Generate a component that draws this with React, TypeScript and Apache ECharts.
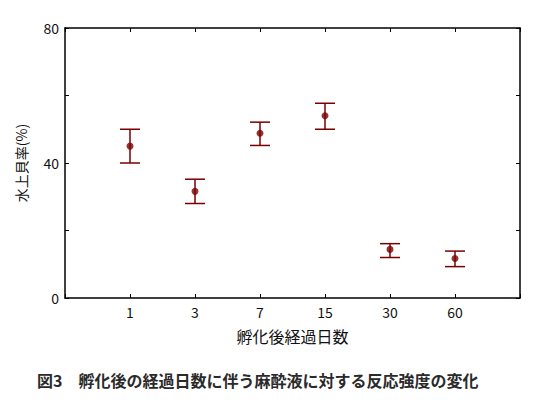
import React, { useEffect, useRef } from 'react';
import * as echarts from 'echarts';

// days after hatching, placed at slots 1..6 of a 0..7 axis
const dayLabels = ['1', '3', '7', '15', '30', '60'];
const meanValues = [45.0, 31.6, 48.8, 54.0, 14.4, 11.7];
const upperValues = [50.0, 35.2, 52.1, 57.7, 16.1, 13.9];
const lowerValues = [40.0, 28.0, 45.2, 50.0, 12.0, 9.3];
const yTickLabels = ['0', '40', '80'];

const RED = '#7a0000';
const FONT = '"Noto Sans CJK JP", sans-serif';

const frameLine = { show: true, onZero: false, lineStyle: { color: '#000', width: 1.5 } };
const frameTick = { show: true, inside: true, length: 4, lineStyle: { color: '#000' } };

const App = () => {
  const chartRef = useRef<HTMLDivElement>(null);

  useEffect(() => {
    document.body.style.margin = '0';
    if (!chartRef.current) return;
    const chart = echarts.init(chartRef.current, null, { renderer: 'svg' });

    const points = meanValues.map((v, i) => [i + 1, v]);
    const bars = meanValues.map((_, i) => [i + 1, lowerValues[i], upperValues[i]]);

    const option: echarts.EChartsOption = {
      animation: false,
      grid: { left: 65, top: 28, right: 27, bottom: 122 },
      xAxis: [
        {
          type: 'value',
          min: 0,
          max: 7,
          interval: 1,
          name: '孵化後経過日数',
          nameLocation: 'middle',
          nameGap: 30,
          nameTextStyle: { color: '#111', fontSize: 16, fontFamily: FONT },
          axisLine: frameLine,
          axisTick: frameTick,
          axisLabel: {
            color: '#111',
            fontSize: 14,
            fontFamily: FONT,
            margin: 7,
            formatter: (v: number) => (v >= 1 && v <= 6 ? dayLabels[v - 1] : ''),
          },
          splitLine: { show: false },
        },
        {
          type: 'value',
          position: 'top',
          min: 0,
          max: 7,
          interval: 1,
          axisLine: frameLine,
          axisTick: frameTick,
          axisLabel: { show: false },
          splitLine: { show: false },
        },
      ],
      yAxis: [
        {
          type: 'value',
          min: 0,
          max: 80,
          interval: 20,
          name: '水上貝率(%)',
          nameLocation: 'middle',
          nameGap: 37,
          nameRotate: 90,
          nameTextStyle: { color: '#111', fontSize: 14, fontFamily: FONT },
          axisLine: frameLine,
          axisTick: frameTick,
          axisLabel: {
            color: '#111',
            fontSize: 14,
            fontFamily: FONT,
            margin: 6,
            formatter: (v: number) => (yTickLabels.includes(String(v)) ? String(v) : ''),
          },
          splitLine: { show: false },
        },
        {
          type: 'value',
          position: 'right',
          min: 0,
          max: 80,
          interval: 20,
          axisLine: frameLine,
          axisTick: frameTick,
          axisLabel: { show: false },
          splitLine: { show: false },
        },
      ],
      series: [
        {
          type: 'custom',
          data: bars,
          renderItem: (params: any, api: any) => {
            const x = api.value(0);
            const lo = api.coord([x, api.value(1)]);
            const hi = api.coord([x, api.value(2)]);
            const half = 10;
            const style = { stroke: RED, lineWidth: 1.5 };
            return {
              type: 'group',
              children: [
                { type: 'line', shape: { x1: lo[0], y1: lo[1], x2: hi[0], y2: hi[1] }, style },
                { type: 'line', shape: { x1: hi[0] - half, y1: hi[1], x2: hi[0] + half, y2: hi[1] }, style },
                { type: 'line', shape: { x1: lo[0] - half, y1: lo[1], x2: lo[0] + half, y2: lo[1] }, style },
              ],
            };
          },
          z: 2,
        },
        {
          type: 'scatter',
          data: points,
          symbol: 'circle',
          symbolSize: 7,
          itemStyle: { color: RED },
          z: 3,
        },
      ],
      graphic: [
        {
          type: 'text',
          x: 37,
          y: 380,
          style: {
            text: '図3　孵化後の経過日数に伴う麻酔液に対する反応強度の変化',
            fill: '#2a2a2a',
            font: `bold 16px ${FONT}`,
            verticalAlign: 'middle',
          },
        },
      ],
    };

    chart.setOption(option);
    return () => chart.dispose();
  }, []);

  return <div ref={chartRef} style={{ width: 547, height: 420 }} />;
};

export default App;
